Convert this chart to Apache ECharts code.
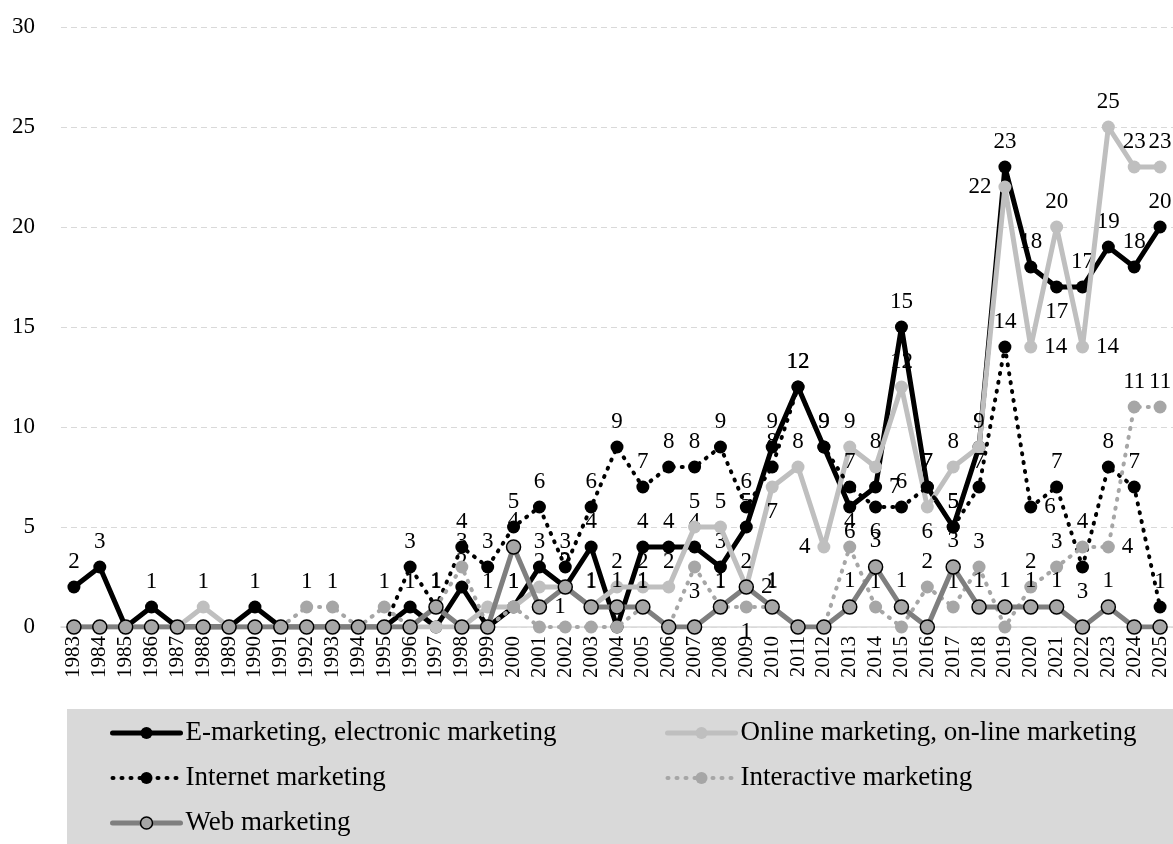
<!DOCTYPE html>
<html><head><meta charset="utf-8">
<script src="https://cdn.jsdelivr.net/npm/echarts@6/dist/echarts.min.js"></script>
<style>html,body{margin:0;padding:0;background:#fff}#c{width:1173px;height:844px}</style>
</head><body><div id="c"></div>
<script>
const years = [];
for (let y = 1983; y <= 2025; y++) years.push(String(y));

const eMarketing = [2,3,0,1,0,0,0,1,0,0,0,0,0,1,0,2,0,1,3,2,4,0,4,4,4,3,5,9,12,9,6,7,15,7,5,9,23,18,17,17,19,18,20];
const onlineMarketing = [0,0,0,0,0,1,0,0,0,0,0,0,0,0,0,0,1,1,2,2,1,2,2,2,5,5,2,7,8,4,9,8,12,6,8,9,22,14,20,14,25,23,23];
const internetMarketing = [0,0,0,0,0,0,0,0,0,0,0,0,0,3,1,4,3,5,6,3,6,9,7,8,8,9,6,8,12,9,7,6,6,7,5,7,14,6,7,3,8,7,1];
const interactiveMarketing = [0,0,0,0,0,0,0,0,0,1,1,0,1,0,1,3,0,1,0,0,0,0,1,0,3,1,1,1,0,0,4,1,0,2,1,3,0,2,3,4,4,11,11];
const webMarketing = [0,0,0,0,0,0,0,0,0,0,0,0,0,0,1,0,0,4,1,2,1,1,1,0,0,1,2,1,0,0,1,3,1,0,3,1,1,1,1,0,1,0,0];
const yTicks = [0,5,10,15,20,25,30];

const names = ['E-marketing, electronic marketing','Online marketing, on-line marketing','Internet marketing','Interactive marketing','Web marketing'];

// label placement overrides (style only), keyed by year
const labelPos = {
  0: {2013:'bottom', 2014:'right', 2021:'bottom'},
  1: {2010:'bottom', 2012:'left', 2016:'bottom', 2019:'left', 2020:'right', 2022:'right'},
  2: {2014:'bottom', 2020:'right', 2022:'bottom'},
  3: {2007:'bottom', 2009:'bottom', 2023:'right'},
  4: {2001:'right', 2009:'right'}
};

function build(vals, si) {
  return vals.map((v, i) => {
    const p = labelPos[si][years[i]];
    return p ? {value: v, label: {position: p}} : v;
  });
}

const serif = '"Liberation Serif","DejaVu Serif",serif';
const lbl = {show: true, position: 'top', distance: 7, fontFamily: serif, fontSize: 23, color: '#000',
  formatter: p => (p.value === 0 ? '' : String(p.value))};

const styles = [
  {color:'#000000', width:5, type:'solid', mfill:'#000000', mborder:'#000000', msize:13},
  {color:'#bfbfbf', width:5, type:'solid', mfill:'#bfbfbf', mborder:'#bfbfbf', msize:13},
  {color:'#000000', width:4, type:[1,8], mfill:'#000000', mborder:'#000000', msize:13},
  {color:'#a6a6a6', width:4, type:[1,8], mfill:'#a6a6a6', mborder:'#a6a6a6', msize:13},
  {color:'#7f7f7f', width:5, type:'solid', mfill:'#a6a6a6', mborder:'#000000', msize:14}
];
const allData = [eMarketing, onlineMarketing, internetMarketing, interactiveMarketing, webMarketing];

const series = allData.map((d, si) => {
  const s = styles[si];
  return {
    name: names[si], type: 'line', data: build(d, si),
    symbol: 'circle', symbolSize: s.msize,
    lineStyle: {color: s.color, width: s.width, type: s.type, cap: 'round'},
    itemStyle: {color: s.mfill, borderColor: s.mborder, borderWidth: si === 4 ? 1.5 : 0},
    label: lbl, z: 2 + si, animation: false
  };
});

function legendData(idx) {
  return idx.map(i => ({
    name: names[i],
    itemStyle: {color: styles[i].mfill, borderColor: styles[i].mborder, borderWidth: i === 4 ? 1.5 : 0},
    lineStyle: {color: styles[i].color, width: styles[i].width, type: styles[i].type, cap: 'round'}
  }));
}

const chart = echarts.init(document.getElementById('c'), null, {renderer: 'canvas'});
const legendCommon = {orient: 'vertical', itemWidth: 68, itemHeight: 15, itemGap: 15, padding: 0, height: 140,
  textStyle: {fontFamily: serif, fontSize: 27, lineHeight: 30, color: '#000'}};
chart.setOption({
  animation: false,
  backgroundColor: '#ffffff',
  graphic: [{type: 'rect', shape: {x: 67, y: 709, width: 1106, height: 135}, style: {fill: '#d9d9d9'}, z: 0}],
  legend: [
    Object.assign({left: 110, top: 718, data: legendData([0, 2, 4])}, legendCommon),
    Object.assign({left: 665, top: 718, data: legendData([1, 3])}, legendCommon)
  ],
  grid: {left: 61, right: 0, top: 27, bottom: 217, containLabel: false},
  xAxis: {
    type: 'category', data: years, boundaryGap: true,
    axisLine: {show: true, lineStyle: {color: '#d9d9d9', width: 1.5}},
    axisTick: {show: false},
    axisLabel: {rotate: 90, interval: 0, fontFamily: serif, fontSize: 21, color: '#000', margin: 9}
  },
  yAxis: {
    type: 'value', min: yTicks[0], max: yTicks[yTicks.length-1], interval: 5,
    axisLine: {show: false}, axisTick: {show: false},
    axisLabel: {fontFamily: serif, fontSize: 23, color: '#000', margin: 26},
    splitLine: {lineStyle: {color: '#d9d9d9', type: [6,4], width: 1}}
  },
  series: series
});
</script></body></html>
